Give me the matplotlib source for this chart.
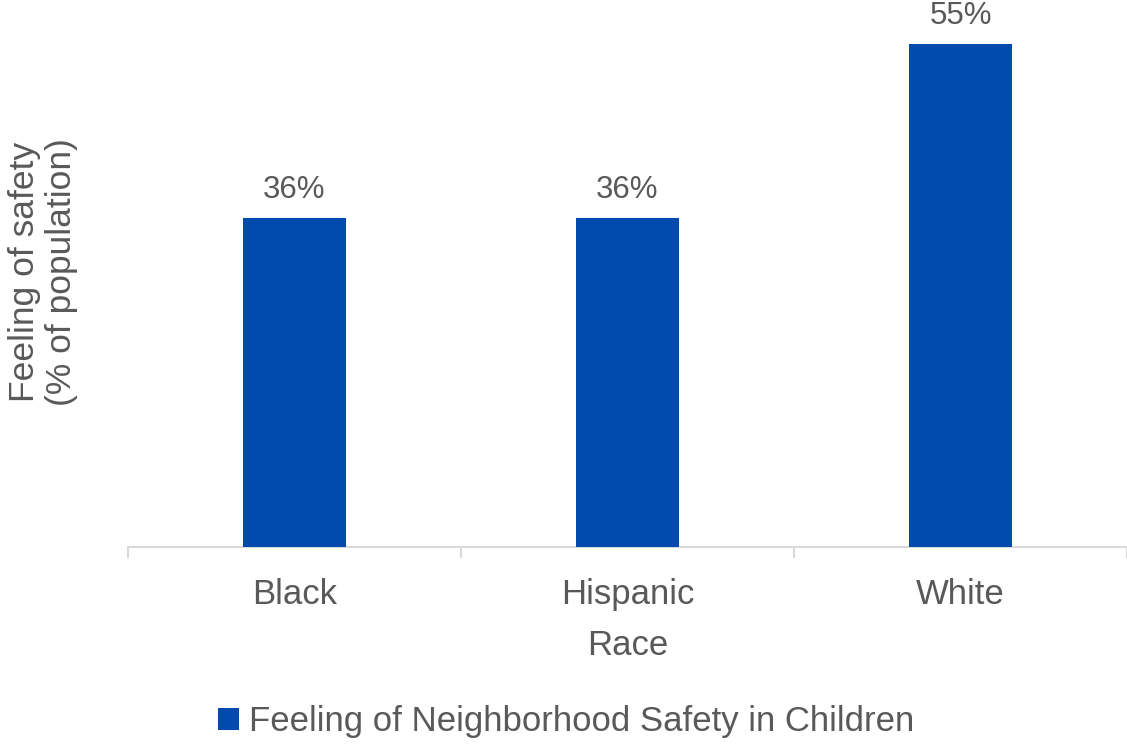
import matplotlib.pyplot as plt
from matplotlib.patches import Patch

# Feeling of neighborhood safety by race
races = ["Black", "Hispanic", "White"]
safety_pct = [36, 36, 55]
series_name = "Feeling of Neighborhood Safety in Children"

bar_color = "#004AAD"
text_color = "#595959"
grid_color = "#D9D9D9"

plt.rcParams['font.family'] = ['Liberation Sans', 'DejaVu Sans']

fig = plt.figure(figsize=(11.27, 7.46), dpi=100)
ax = fig.add_axes([128 / 1127, 199 / 746, 999 / 1127, 547 / 746])

x = range(len(races))
bars = ax.bar(x, safety_pct, width=0.31, color=bar_color, zorder=3)

for b, v in zip(bars, safety_pct):
    ax.annotate(f"{v}%", (b.get_x() + b.get_width() / 2, v),
                xytext=(0, 9), textcoords="offset points",
                ha="center", va="bottom", fontsize=22.5, color=text_color)

ax.set_xlim(-0.5, len(races) - 0.5)
ax.set_ylim(0, 547 / (503 / 55))

ax.set_xticks(list(x))
ax.set_xticklabels(races, fontsize=25, color=text_color)
ax.tick_params(axis="x", which="major", length=0, pad=22)
ax.set_xticks([i - 0.5 for i in range(len(races) + 1)], minor=True)
ax.tick_params(axis="x", which="minor", length=8, width=1.5, color=grid_color)

ax.set_yticks([])
for side in ["top", "right", "left"]:
    ax.spines[side].set_visible(False)
ax.spines["bottom"].set_color(grid_color)
ax.spines["bottom"].set_linewidth(1.5)

ax.set_xlabel("Race", fontsize=25, color=text_color, labelpad=13)
fig.text(43 / 1127, 1 - 272 / 746, "Feeling of safety\n(% of population)",
         rotation=90, ha="center", va="center", fontsize=25.5,
         color=text_color, linespacing=1.15)

handles = [Patch(facecolor=bar_color, label=series_name)]
fig.legend(handles=handles, loc="center", bbox_to_anchor=(566 / 1127, 1 - 722 / 746),
           frameon=False, fontsize=25, labelcolor=text_color,
           handlelength=0.6, handleheight=0.6, handletextpad=0.3)

fig.savefig("out.png", dpi=100)
